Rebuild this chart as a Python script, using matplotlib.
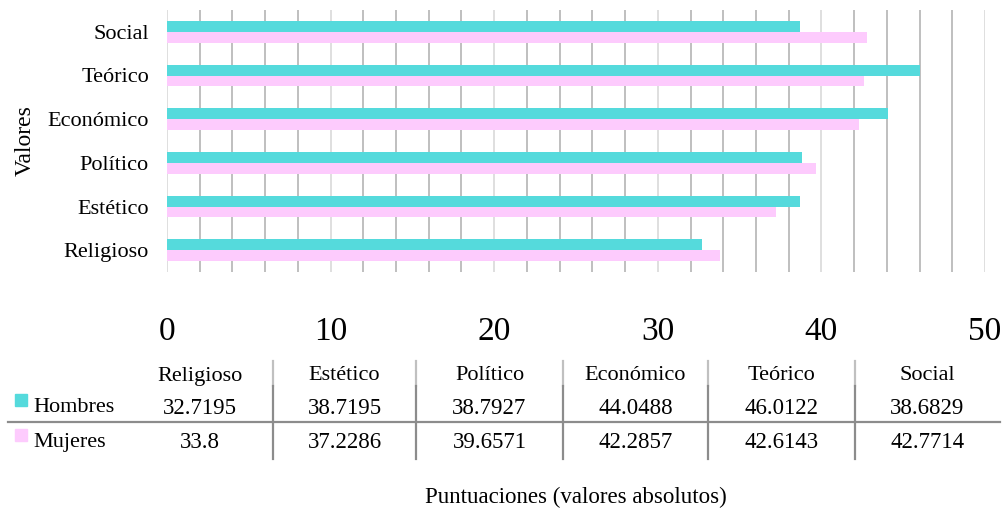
import matplotlib
matplotlib.use("Agg")
import matplotlib.pyplot as plt
from matplotlib.lines import Line2D
from matplotlib.patches import Rectangle

categories = ["Religioso", "Estético", "Político", "Económico", "Teórico", "Social"]
hombres = [32.7195, 38.7195, 38.7927, 44.0488, 46.0122, 38.6829]
mujeres = [33.8, 37.2286, 39.6571, 42.2857, 42.6143, 42.7714]
hombres_txt = ["32.7195", "38.7195", "38.7927", "44.0488", "46.0122", "38.6829"]
mujeres_txt = ["33.8", "37.2286", "39.6571", "42.2857", "42.6143", "42.7714"]
series_names = ["Hombres", "Mujeres"]
xticks = [0, 10, 20, 30, 40, 50]

c_h = "#55DADC"
c_m = "#FDCBFD"
FONT = "Liberation Serif"
plt.rcParams["font.family"] = [FONT, "DejaVu Serif"]

W, H = 1003, 512
fig = plt.figure(figsize=(W / 100, H / 100), dpi=100)
ax = fig.add_axes([167 / W, 1 - 272 / H, (985 - 167) / W, (272 - 10) / H])

# gridlines
for g in range(0, 51, 2):
    ax.axvline(g, color="#d9d9d9" if g % 10 == 0 else "#b4b4b4", lw=1.2, zorder=0)

ys = list(range(len(categories)))
bh = 0.25
ax.barh([y + bh / 2 for y in ys], hombres, height=bh, color=c_h, zorder=2)
ax.barh([y - bh / 2 for y in ys], mujeres, height=bh, color=c_m, zorder=2)

ax.set_xlim(0, 50)
ax.set_ylim(-0.5, len(categories) - 0.5)
ax.set_yticks(ys)
ax.set_yticklabels(categories, fontsize=16)
ax.set_xticks(xticks)
ax.set_xticklabels([str(t) for t in xticks], fontsize=24)
ax.tick_params(axis="x", length=0, pad=32)
ax.tick_params(axis="y", length=0, pad=13)
for s in ax.spines.values():
    s.set_visible(False)
ax.set_ylabel("Valores", fontsize=17)

def fx(px):
    return px / W

def fy(py):
    return 1 - py / H

ax.yaxis.set_label_coords((36 - 167) / (985 - 167), (272 - 141) / (272 - 10))

# data table
edges = [127, 273, 416, 563, 708, 855, 1000]
centers = [(edges[i] + edges[i + 1]) / 2 for i in range(len(categories))]
for i, cat in enumerate(categories):
    fig.text(fx(centers[i]), fy(376), cat, ha="center", va="center", fontsize=16)
    fig.text(fx(centers[i]), fy(408), hombres_txt[i], ha="center", va="center", fontsize=16.5)
    fig.text(fx(centers[i]), fy(443), mujeres_txt[i], ha="center", va="center", fontsize=16.5)

for e in edges[1:-1]:
    fig.add_artist(Line2D([fx(e), fx(e)], [fy(361), fy(386)], color="#c0c0c0", lw=1.6))
    fig.add_artist(Line2D([fx(e), fx(e)], [fy(386), fy(459)], color="#8c8c8c", lw=1.6))
fig.add_artist(Line2D([fx(8), fx(1000)], [fy(422), fy(422)], color="#8c8c8c", lw=1.6))

for name, col, py in [(series_names[0], c_h, 405), (series_names[1], c_m, 440)]:
    fig.add_artist(Rectangle((fx(15), fy(py + 1)), 12 / W, 12 / H, color=col, transform=fig.transFigure))
    fig.text(fx(33), fy(py + 2), name, ha="left", va="center", fontsize=16)

fig.text(fx(576), fy(497), "Puntuaciones (valores absolutos)", ha="center", va="center", fontsize=16.5)

fig.savefig("out.png", dpi=100)
